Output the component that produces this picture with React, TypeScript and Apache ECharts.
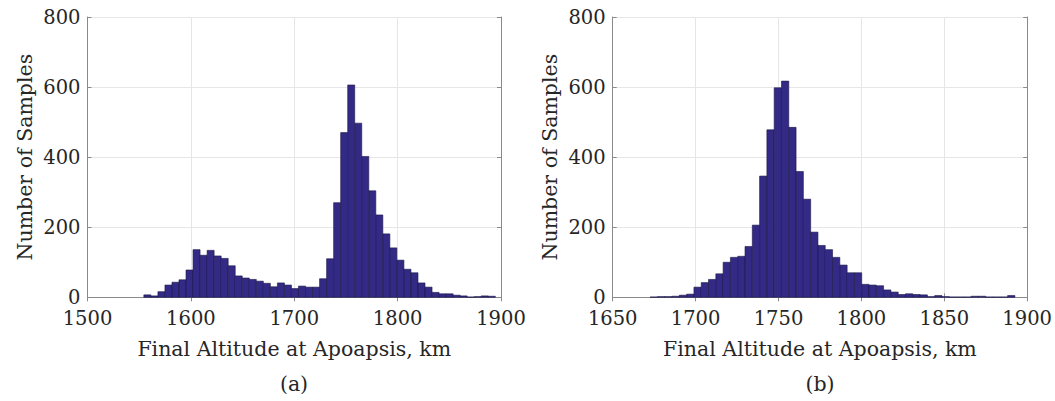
import React, { useEffect, useRef } from "react";
import * as echarts from "echarts";

// Histogram (a): counts per bin, uniform bins
const countsA = [7, 4, 16, 35, 43, 50, 78, 136, 120, 134, 118, 111, 90, 61, 55, 51, 46, 40, 30, 41, 35, 25, 32, 29, 29, 53, 110, 270, 470, 606, 497, 402, 304, 235, 181, 141, 106, 80, 70, 41, 29, 14, 10, 10, 6, 4, 1, 2, 4, 3];
const binStartA = 1554.5;
const binWidthA = 6.8;

// Histogram (b)
const countsB = [1, 2, 2, 3, 6, 9, 29, 42, 51, 67, 100, 114, 117, 145, 206, 346, 478, 598, 617, 485, 359, 280, 186, 148, 136, 114, 92, 70, 70, 37, 35, 33, 21, 15, 8, 10, 8, 7, 2, 5, 2, 1, 1, 1, 3, 3, 1, 1, 1, 5];
const binStartB = 1672.6;
const binWidthB = 4.4;

const xRangeA = [1500, 1900];
const xIntervalA = 100;
const xRangeB = [1650, 1900];
const xIntervalB = 50;
const yRange = [0, 800];
const yInterval = 200;

const xTitle = "Final Altitude at Apoapsis, km";
const yTitle = "Number of Samples";
const panelLabels = ["(a)", "(b)"];

const FONT = "DejaVu Serif";
const TEXT = "#262626";
const FRAME = "#8a8a8a";
const GRID = "#e6e6e6";
const BAR = "#322a84";
const EDGE = "#1c1748";
const FS_TICK = 19.5;
const FS_TITLE = 20.5;

function binsOf(counts: number[], start: number, width: number) {
  return counts.map((c, i) => [start + i * width, start + (i + 1) * width, c]);
}

export default function App() {
  const ref = useRef<HTMLDivElement>(null);
  useEffect(() => {
    if (!ref.current) return;
    const chart = echarts.init(ref.current, undefined, { renderer: "svg" });
    const grids = [
      { left: 87.5, top: 17, width: 413.5, height: 280.3 },
      { left: 612.7, top: 17, width: 414.8, height: 280.3 },
    ];
    const ranges = [xRangeA, xRangeB];
    const intervals = [xIntervalA, xIntervalB];
    const xAxes: any[] = [];
    const yAxes: any[] = [];
    const fmt = (v: number) => String(v);
    const tick = { fontFamily: FONT, fontSize: FS_TICK, color: TEXT };
    const title = { fontFamily: FONT, fontSize: FS_TITLE, color: TEXT };
    grids.forEach((_, g) => {
      xAxes.push({
        type: "value",
        gridIndex: g,
        min: ranges[g][0],
        max: ranges[g][1],
        interval: intervals[g],
        position: "bottom",
        name: xTitle,
        nameLocation: "middle",
        nameGap: 41,
        nameTextStyle: title,
        axisLine: { show: true, lineStyle: { color: FRAME, width: 1 } },
        axisTick: { show: true, inside: true, length: 4, lineStyle: { color: FRAME } },
        axisLabel: { ...tick, margin: 11, formatter: fmt },
        splitLine: { show: true, lineStyle: { color: GRID, width: 1 } },
      });
      xAxes.push({
        type: "value",
        gridIndex: g,
        min: ranges[g][0],
        max: ranges[g][1],
        interval: intervals[g],
        position: "top",
        axisLine: { show: true, lineStyle: { color: FRAME, width: 1 } },
        axisTick: { show: true, inside: true, length: 4, lineStyle: { color: FRAME } },
        axisLabel: { show: false },
        splitLine: { show: false },
      });
      yAxes.push({
        type: "value",
        gridIndex: g,
        min: yRange[0],
        max: yRange[1],
        interval: yInterval,
        position: "left",
        name: yTitle,
        nameLocation: "middle",
        nameGap: 52,
        nameTextStyle: title,
        axisLine: { show: true, lineStyle: { color: FRAME, width: 1 } },
        axisTick: { show: true, inside: true, length: 4, lineStyle: { color: FRAME } },
        axisLabel: { ...tick, margin: 7, formatter: fmt },
        splitLine: { show: true, lineStyle: { color: GRID, width: 1 } },
      });
      yAxes.push({
        type: "value",
        gridIndex: g,
        min: yRange[0],
        max: yRange[1],
        interval: yInterval,
        position: "right",
        axisLine: { show: true, lineStyle: { color: FRAME, width: 1 } },
        axisTick: { show: true, inside: true, length: 4, lineStyle: { color: FRAME } },
        axisLabel: { show: false },
        splitLine: { show: false },
      });
    });
    const renderItem = (params: any, api: any) => {
      const x0 = api.value(0);
      const x1 = api.value(1);
      const v = api.value(2);
      const p0 = api.coord([x0, v]);
      const p1 = api.coord([x1, 0]);
      return {
        type: "rect",
        shape: { x: p0[0], y: p0[1], width: p1[0] - p0[0], height: p1[1] - p0[1] },
        style: { fill: BAR, stroke: EDGE, lineWidth: 0.6 },
      };
    };
    chart.setOption({
      animation: false,
      backgroundColor: "#ffffff",
      textStyle: { fontFamily: FONT },
      grid: grids,
      xAxis: xAxes,
      yAxis: yAxes,
      series: [
        {
          type: "custom",
          xAxisIndex: 0,
          yAxisIndex: 0,
          renderItem,
          encode: { x: [0, 1], y: 2 },
          data: binsOf(countsA, binStartA, binWidthA),
        },
        {
          type: "custom",
          xAxisIndex: 2,
          yAxisIndex: 2,
          renderItem,
          encode: { x: [0, 1], y: 2 },
          data: binsOf(countsB, binStartB, binWidthB),
        },
      ],
      graphic: [
        {
          type: "text",
          x: 294,
          y: 384,
          style: { text: panelLabels[0], fontFamily: FONT, fontSize: FS_TITLE, fill: TEXT, textAlign: "center", textVerticalAlign: "middle" },
        },
        {
          type: "text",
          x: 820,
          y: 384,
          style: { text: panelLabels[1], fontFamily: FONT, fontSize: FS_TITLE, fill: TEXT, textAlign: "center", textVerticalAlign: "middle" },
        },
      ],
    });
    return () => chart.dispose();
  }, []);
  return (
    <div
      ref={ref}
      style={{ position: "absolute", left: 0, top: 0, width: 1055, height: 401, background: "#fff" }}
    />
  );
}
